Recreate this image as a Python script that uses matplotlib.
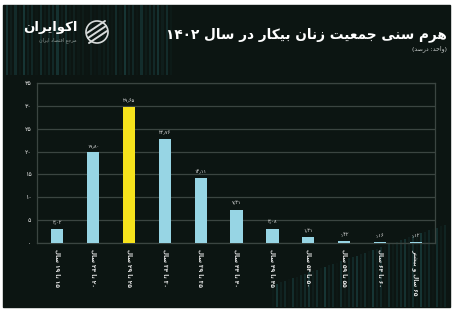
import re
import numpy as np
import matplotlib
matplotlib.use("Agg")
import matplotlib.pyplot as plt
from matplotlib.patches import Rectangle, Circle

W, H = 453, 310

# ---- data (share of unemployed women, %) ----
AGE_GROUPS = ["۱۵ تا ۱۹ سال", "۲۰ تا ۲۴ سال", "۲۵ تا ۲۹ سال", "۳۰ تا ۳۴ سال",
              "۳۵ تا ۳۹ سال", "۴۰ تا ۴۴ سال", "۴۵ تا ۴۹ سال", "۵۰ تا ۵۴ سال",
              "۵۵ تا ۵۹ سال", "۶۰ تا ۶۴ سال", "۶۵ سال و بیشتر"]
SHARE = [3.02, 19.80, 29.65, 22.76, 14.11, 7.31, 3.08, 1.31, 0.42, 0.16, 0.12]
HIGHLIGHT = 2
Y_TICKS = [0, 5, 10, 15, 20, 25, 30, 35]
TITLE = "هرم سنی جمعیت زنان بیکار در سال ۱۴۰۲"
SUBTITLE = "(واحد: درصد)"
BRAND = "اکوایران"
TAGLINE = "مرجع اقتصاد ایران"

C_BG = "#0c1512"
C_BAR = "#97d5e4"
C_HI = "#f6e21c"
C_GRID = "#3b4541"
C_TXT = "#e6e6e6"

FA_DIGITS = str.maketrans("0123456789.", "۰۱۲۳۴۵۶۷۸۹٫")

# isolated, final, initial, medial (None -> letter does not join forward)
FORMS = {
    "ا": ("\uFE8D", "\uFE8E", None, None),
    "ب": ("\uFE8F", "\uFE90", "\uFE91", "\uFE92"),
    "پ": ("\uFB56", "\uFB57", "\uFB58", "\uFB59"),
    "ت": ("\uFE95", "\uFE96", "\uFE97", "\uFE98"),
    "ج": ("\uFE9D", "\uFE9E", "\uFE9F", "\uFEA0"),
    "ح": ("\uFEA1", "\uFEA2", "\uFEA3", "\uFEA4"),
    "د": ("\uFEA9", "\uFEAA", None, None),
    "ر": ("\uFEAD", "\uFEAE", None, None),
    "ز": ("\uFEAF", "\uFEB0", None, None),
    "س": ("\uFEB1", "\uFEB2", "\uFEB3", "\uFEB4"),
    "ش": ("\uFEB5", "\uFEB6", "\uFEB7", "\uFEB8"),
    "ص": ("\uFEB9", "\uFEBA", "\uFEBB", "\uFEBC"),
    "ع": ("\uFEC9", "\uFECA", "\uFECB", "\uFECC"),
    "ق": ("\uFED5", "\uFED6", "\uFED7", "\uFED8"),
    "ک": ("\uFB8E", "\uFB8F", "\uFB90", "\uFB91"),
    "گ": ("\uFB92", "\uFB93", "\uFB94", "\uFB95"),
    "ل": ("\uFEDD", "\uFEDE", "\uFEDF", "\uFEE0"),
    "م": ("\uFEE1", "\uFEE2", "\uFEE3", "\uFEE4"),
    "ن": ("\uFEE5", "\uFEE6", "\uFEE7", "\uFEE8"),
    "ه": ("\uFEE9", "\uFEEA", "\uFEEB", "\uFEEC"),
    "و": ("\uFEED", "\uFEEE", None, None),
    "ی": ("\uFBFC", "\uFBFD", "\uFBFE", "\uFBFF"),
}


def fa(text):
    """Shape Persian letters and put them in visual (left-to-right) order."""
    out = []
    for i, c in enumerate(text):
        if c not in FORMS:
            out.append(c)
            continue
        prev = text[i - 1] if i > 0 else ""
        nxt = text[i + 1] if i + 1 < len(text) else ""
        jp = prev in FORMS and FORMS[prev][2] is not None
        jn = nxt in FORMS and FORMS[c][2] is not None
        iso, fin, ini, med = FORMS[c]
        out.append(med if jp and jn else fin if jp else ini if jn else iso)
    s = "".join(out)[::-1]
    s = re.sub(r"[0-9۰-۹٫.]+", lambda m: m.group(0)[::-1], s)
    return s.translate(str.maketrans("()", ")("))


plt.rcParams["font.family"] = ["DejaVu Sans"]
fig = plt.figure(figsize=(W / 100, H / 100), dpi=100, facecolor="white")

# background panel in pixel coordinates
bg = fig.add_axes([0, 0, 1, 1])
bg.set_xlim(0, W); bg.set_ylim(H, 0); bg.axis("off")
bg.add_patch(Rectangle((3, 5), 447, 302, color=C_BG, zorder=0))

# teal streaks (decoration)
alphas = [0.3, 0.1, 0.24, 0.06, 0.34, 0.12, 0.2, 0.04, 0.26, 0.08, 0.16, 0.22]
for k, x in enumerate(np.arange(6, 170, 4.2)):
    a = alphas[k % len(alphas)] * (1.0 if x < 70 or x > 115 else 0.4)
    bg.add_patch(Rectangle((x, 5), 2.2, 70, color="#2a7378", alpha=a, lw=0, zorder=1))
for k, x in enumerate(np.arange(272, 448, 4.0)):
    top = 285 - (x - 272) * 0.35
    a = alphas[(k + 3) % len(alphas)]
    bg.add_patch(Rectangle((x, top), 2.0, 307 - top, color="#2a7378", alpha=a, lw=0, zorder=1))

# logo
bg.text(77, 28, fa(BRAND), color="white", fontsize=9.5, fontweight="bold",
        ha="right", va="center", zorder=3)
bg.text(77, 40, fa(TAGLINE), color="#8f9a97", fontsize=3.5, ha="right", va="center", zorder=3)
bg.add_patch(Circle((97, 32), 11, fill=False, ec="#d8dcdc", lw=1.2, zorder=3))
for d in (-5, 0, 5):
    bg.plot([88 + d * 0.2, 106 + d * 0.2], [38 + d, 26 + d], color="#d8dcdc", lw=1.4,
            solid_capstyle="round", zorder=3)

# title
bg.text(447, 35, fa(TITLE), color="white", fontsize=9.8, fontweight="bold",
        ha="right", va="center", zorder=3)
bg.text(447, 49, fa(SUBTITLE), color="#c8cccb", fontsize=4.5, ha="right", va="center", zorder=3)

# chart
ax = fig.add_axes([37 / W, (H - 243) / H, (435 - 37) / W, (243 - 83) / H])
ax.set_facecolor("none")
x = np.arange(len(SHARE))
colors = [C_HI if i == HIGHLIGHT else C_BAR for i in range(len(SHARE))]
ax.bar(x, SHARE, 0.34, color=colors, zorder=3)
for xi, v in zip(x, SHARE):
    ax.text(xi, v + 0.9, f"{v:.2f}".translate(FA_DIGITS), color=C_TXT, fontsize=3.6,
            ha="center", va="bottom", zorder=4)
ax.set_xlim(-0.56, 10.53)
ax.set_ylim(0, 35)
ax.set_yticks(Y_TICKS)
ax.set_yticklabels([str(t).translate(FA_DIGITS) for t in Y_TICKS], color=C_TXT, fontsize=4.5)
ax.set_xticks(x)
ax.set_xticklabels([fa(s) for s in AGE_GROUPS], rotation=270, color=C_TXT, fontsize=4.2,
                   va="top", ha="center", fontweight="bold")
ax.tick_params(length=0, pad=4)
ax.grid(axis="y", color=C_GRID, lw=0.9, zorder=1)
for sp in ax.spines.values():
    sp.set_color(C_GRID); sp.set_linewidth(0.9)

fig.savefig("out.png", dpi=100, facecolor="white")
